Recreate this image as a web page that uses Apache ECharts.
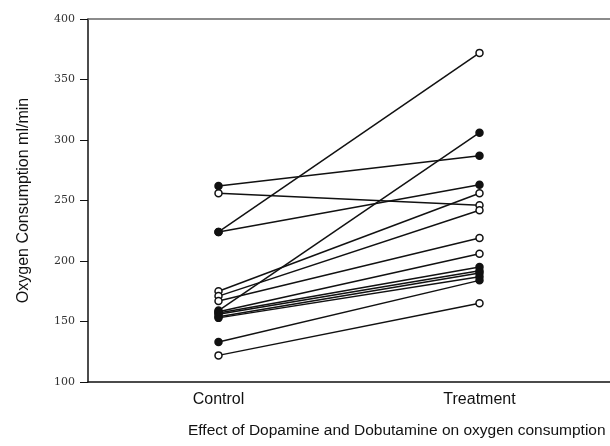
<!DOCTYPE html>
<html>
<head>
<meta charset="utf-8">
<script src="https://cdn.jsdelivr.net/npm/echarts@6/dist/echarts.min.js"></script>
<style>html,body{margin:0;padding:0;background:#fff}#c{width:610px;height:446px}</style>
</head>
<body>
<div id="c"></div>
<script>
const categories = ['Control', 'Treatment'];
const controlValues   = [262, 256, 224, 224, 175, 171, 167, 159, 158, 157, 156, 154, 153, 133, 122];
const treatmentValues = [287, 246, 372, 263, 256, 242, 219, 306, 206, 195, 192, 190, 187, 184, 165];
const filledMarker    = [true, false, false, true, false, false, false, true, false, true, true, true, true, true, false];
const yTicks = [100, 150, 200, 250, 300, 350, 400];
const yAxisTitle = 'Oxygen Consumption ml/min';
const xAxisTitle = 'Effect of Dopamine and Dobutamine on oxygen consumption';

const series = controlValues.map((c, i) => ({
  type: 'line',
  data: [[categories[0], c], [categories[1], treatmentValues[i]]],
  symbol: 'circle',
  symbolSize: 7,
  lineStyle: { color: '#111', width: 1.5 },
  itemStyle: { color: filledMarker[i] ? '#111' : '#fff', borderColor: '#111', borderWidth: 1.5 },
  z: filledMarker[i] ? 3 : 2,
  animation: false
}));

const chart = echarts.init(document.getElementById('c'));
chart.setOption({
  animation: false,
  grid: { left: 88, right: 0, top: 19, bottom: 64 },
  xAxis: [{
    type: 'category',
    data: categories,
    boundaryGap: true,
    axisLine: { lineStyle: { color: '#111', width: 1.5 } },
    axisTick: { alignWithLabel: true, length: 5, lineStyle: { color: '#111' } },
    axisLabel: { fontFamily: 'Liberation Sans, Arial', fontSize: 16, color: '#111', margin: 10 },
    splitLine: { show: false }
  }, {
    type: 'category',
    data: categories,
    position: 'top',
    axisLine: { lineStyle: { color: '#666', width: 1.5 } },
    axisTick: { show: false },
    axisLabel: { show: false }
  }],
  yAxis: {
    type: 'value',
    min: yTicks[0],
    max: yTicks[yTicks.length - 1],
    interval: 50,
    name: yAxisTitle,
    nameLocation: 'middle',
    nameGap: 56,
    nameTextStyle: { fontFamily: 'Liberation Sans, Arial', fontSize: 16, color: '#111' },
    axisLine: { show: true, lineStyle: { color: '#111', width: 1.5 } },
    axisTick: { show: true, length: 8, lineStyle: { color: '#111' } },
    axisLabel: { fontFamily: 'DejaVu Serif', fontSize: 11, color: '#333', margin: 13 },
    splitLine: { show: false }
  },
  graphic: [{
    type: 'text',
    left: 188,
    top: 423,
    style: { text: xAxisTitle, font: '15.5px "Liberation Sans", Arial', fill: '#111' }
  }],
  series: series
});
</script>
</body>
</html>
